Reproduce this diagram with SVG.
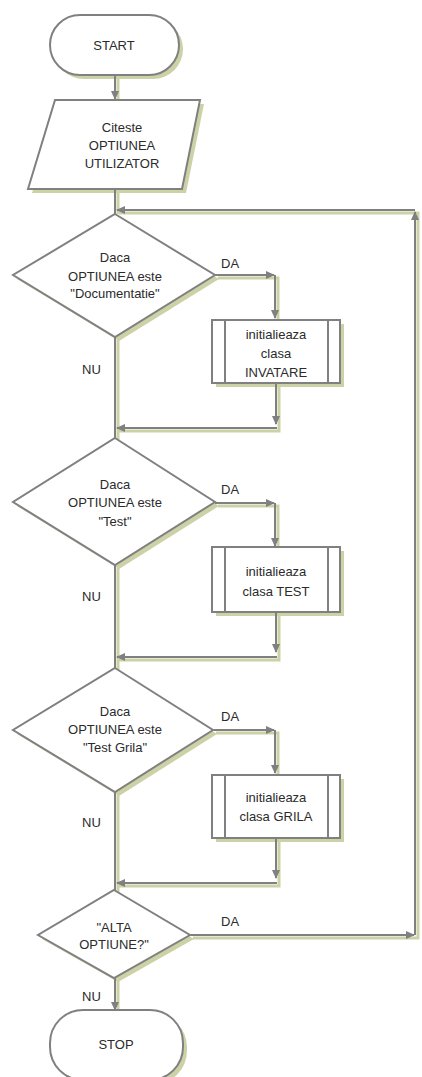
<svg xmlns="http://www.w3.org/2000/svg" width="422" height="1077" viewBox="0 0 422 1077">
<style>
.sh{fill:#cdd1a6;stroke:none}
.shl{fill:none;stroke:#cdd1a6;stroke-width:3}
.nd{fill:#fff;stroke:#808080;stroke-width:2}
.ln{fill:none;stroke:#808080;stroke-width:2}
.arr{fill:none;stroke:#808080;stroke-width:2;marker-end:url(#ah)}
text{font-family:"Liberation Sans",Arial,sans-serif;font-size:13px;fill:#2b2b2b;text-anchor:middle}
.lb{text-anchor:start}
</style>
<defs>
<marker id="ah" markerUnits="userSpaceOnUse" markerWidth="9" markerHeight="8" refX="8" refY="4" orient="auto">
<path d="M0,0 L9,4 L0,8 z" fill="#808080"/>
</marker>
</defs>
<rect width="422" height="1077" fill="#fff"/>
<g id="shadows">
<rect class="sh" x="54" y="19" width="129" height="60" rx="30"/>
<polygon class="sh" points="59,104 204,104 186,193 32,193"/>
<polygon class="sh" points="119,218 219,279 119,341 17,279"/>
<rect class="sh" x="216" y="324" width="128" height="63"/>
<polygon class="sh" points="119,442 219,506 119,569 17,506"/>
<rect class="sh" x="216" y="551" width="128" height="65"/>
<polygon class="sh" points="119,672 217,734 119,796 17,734"/>
<rect class="sh" x="216" y="779" width="128" height="63"/>
<polygon class="sh" points="118,894 194,939 118,982 42,939"/>
<rect class="sh" x="54" y="1014" width="133" height="70" rx="33"/>
<path class="shl" d="M218,278 H278 V320 M279,386 V431 H119 M218,506 H278 V547 M279,615 V660 H119 M216,733 H278 V775 M279,841 V886 H119 M193,938 H418 V213 H119 M118,79 V101 M118,192 V214 M118,340 V440 M118,568 V670 M118,795 V892 M118,981 V1012"/>
</g>
<g id="connectors">
<path class="arr" d="M115,75 V99"/>
<path class="ln" d="M115,189 V214"/>
<path class="arr" d="M215,275 H274"/>
<path class="arr" d="M275,275 V318"/>
<path class="arr" d="M276,383 V424"/>
<path class="arr" d="M277,428 H117"/>
<path class="ln" d="M115,337 V440"/>
<path class="arr" d="M215,503 H274"/>
<path class="arr" d="M275,503 V546"/>
<path class="arr" d="M276,612 V652"/>
<path class="arr" d="M277,657 H117"/>
<path class="ln" d="M115,565 V669"/>
<path class="arr" d="M213,730 H274"/>
<path class="arr" d="M275,730 V773"/>
<path class="arr" d="M276,838 V878"/>
<path class="arr" d="M277,883 H117"/>
<path class="ln" d="M115,792 V891"/>
<path class="arr" d="M190,935 H414"/>
<path class="arr" d="M415,935 V212"/>
<path class="arr" d="M415,210 H117"/>
<path class="arr" d="M115,978 V1010"/>
<text class="lb" x="221" y="268">DA</text>
<text class="lb" x="82" y="374">NU</text>
<text class="lb" x="221" y="494">DA</text>
<text class="lb" x="82" y="601">NU</text>
<text class="lb" x="221" y="721">DA</text>
<text class="lb" x="82" y="827">NU</text>
<text class="lb" x="221" y="926">DA</text>
<text class="lb" x="82" y="1001">NU</text>
</g>
<g id="start">
<rect class="nd" x="50" y="15" width="129" height="60" rx="30"/>
<text x="114" y="50">START</text>
</g>
<g id="citeste">
<polygon class="nd" points="55,100 200,100 182,189 28,189"/>
<text x="122" y="132">Citeste</text>
<text x="122" y="150">OPTIUNEA</text>
<text x="122" y="168">UTILIZATOR</text>
</g>
<g id="dec1">
<polygon class="nd" points="115,214 215,275 115,337 13,275"/>
<text x="115" y="262">Daca</text>
<text x="115" y="281">OPTIUNEA este</text>
<text x="115" y="298">"Documentatie"</text>
</g>
<g id="box1">
<rect class="nd" x="212" y="320" width="128" height="63"/>
<path class="ln" d="M225,320 V383 M328,320 V383"/>
<text x="276" y="339">initialieaza</text>
<text x="276" y="358">clasa</text>
<text x="276" y="377">INVATARE</text>
</g>
<g id="dec2">
<polygon class="nd" points="115,438 215,502 115,565 13,502"/>
<text x="115" y="489">Daca</text>
<text x="115" y="507">OPTIUNEA este</text>
<text x="115" y="526">"Test"</text>
</g>
<g id="box2">
<rect class="nd" x="212" y="547" width="128" height="65"/>
<path class="ln" d="M225,547 V612 M328,547 V612"/>
<text x="276" y="576">initialieaza</text>
<text x="276" y="596">clasa TEST</text>
</g>
<g id="dec3">
<polygon class="nd" points="115,668 213,730 115,792 13,730"/>
<text x="115" y="716">Daca</text>
<text x="115" y="734">OPTIUNEA este</text>
<text x="115" y="752">"Test Grila"</text>
</g>
<g id="box3">
<rect class="nd" x="212" y="775" width="128" height="63"/>
<path class="ln" d="M225,775 V838 M328,775 V838"/>
<text x="276" y="802">initialieaza</text>
<text x="276" y="821">clasa GRILA</text>
</g>
<g id="dec4">
<polygon class="nd" points="114,890 190,935 114,978 38,935"/>
<text x="114" y="932">"ALTA</text>
<text x="114" y="949">OPTIUNE?"</text>
</g>
<g id="stop">
<rect class="nd" x="50" y="1010" width="133" height="70" rx="33"/>
<text x="116" y="1049">STOP</text>
</g>
</svg>
